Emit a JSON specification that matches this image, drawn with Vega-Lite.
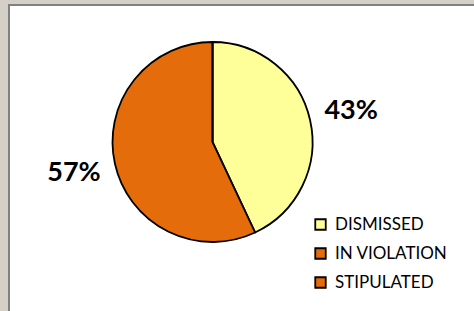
{
  "$schema": "https://vega.github.io/schema/vega-lite/v6.json",
  "autosize": "none",
  "width": 467,
  "height": 308,
  "padding": {"left": 9, "top": 5, "right": 0, "bottom": 0},
  "background": "#D4D0C8",
  "config": {
    "view": {"fill": "white", "stroke": "#808080", "strokeWidth": 2},
    "font": "Lato"
  },
  "data": {
    "values": [
      {"status": "DISMISSED", "value": 0.43},
      {"status": "IN VIOLATION", "value": 0.57},
      {"status": "STIPULATED", "value": 0}
    ]
  },
  "encoding": {
    "theta": {"field": "value", "type": "quantitative", "stack": true},
    "x": {"datum": 0.4358, "type": "quantitative", "scale": {"domain": [0, 1]}, "axis": null},
    "y": {"datum": 0.5552, "type": "quantitative", "scale": {"domain": [0, 1]}, "axis": null}
  },
  "layer": [
    {
      "mark": {"type": "arc", "radius": 100, "stroke": "black", "strokeWidth": 1.8},
      "encoding": {
        "color": {
          "field": "status",
          "type": "nominal",
          "scale": {"domain": ["DISMISSED", "IN VIOLATION", "STIPULATED"], "range": ["#FFFF99", "#E46C0A", "#E46C0A"]},
          "legend": {
            "title": null,
            "orient": "none",
            "legendX": 303,
            "legendY": 211,
            "padding": 0,
            "symbolType": "square",
            "symbolSize": 110,
            "symbolStrokeColor": "black",
            "symbolStrokeWidth": 1.8,
            "labelFont": "Lato",
            "labelFontSize": 17,
            "labelColor": "black",
            "labelOffset": 6,
            "rowPadding": 10
          }
        }
      }
    },
    {
      "transform": [{"filter": "datum.value > 0"}],
      "mark": {"type": "text", "radius": 142, "fontSize": 27, "fontWeight": "bold", "font": "Lato", "color": "black"},
      "encoding": {
        "text": {"field": "value", "type": "quantitative", "format": ".0%"}
      }
    }
  ]
}
